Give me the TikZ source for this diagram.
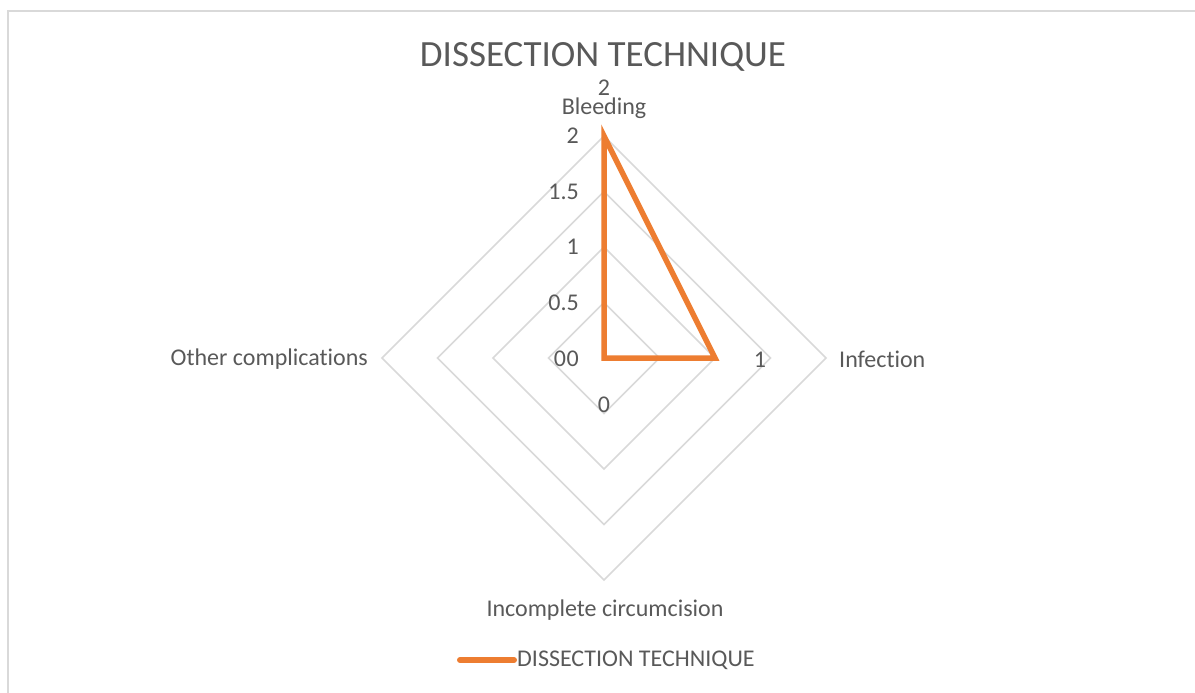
\documentclass[tikz,border=0pt]{standalone}
\usepackage{fontspec}
\setmainfont{Carlito}[RawFeature=-liga]
\definecolor{txt}{HTML}{595959}
\definecolor{gridc}{HTML}{D9D9D9}
\definecolor{ser}{HTML}{ED7D31}
\begin{document}
\begin{tikzpicture}[x=1pt,y=-1pt,
  lbl/.style={text=txt,font=\fontsize{24}{26}\selectfont,inner sep=0pt},
  ring/.style={draw=gridc,line width=1.6pt},
  serline/.style={draw=ser,line width=5.5pt,line join=miter}]
\useasboundingbox (0,0) rectangle (1195,693);
\draw[gridc,line width=2pt] (8,693) -- (8,11) -- (1195,11);
\coordinate (c) at (604,358);
\foreach \r in {55.5,111,166.5,222}{
  \draw[ring] (604,358-\r) -- (604+\r,358) -- (604,358+\r) -- (604-\r,358) -- cycle;
}
\coordinate (pb) at (604,136);
\coordinate (pi) at (715,358);
\coordinate (pc) at (604,358);
\coordinate (po) at (604,358);
\draw[serline] (pb) -- (pi) -- (pc) -- (po) -- cycle;
% title
\node[text=txt,font=\fontsize{37}{40}\selectfont,inner sep=0pt] (title) at (603,57) {DISSECTION TECHNIQUE};
% category labels
\node[lbl] (lb) at (604,108) {Bleeding};
\node[lbl,anchor=west] (li) at (839,359) {Infection};
\node[lbl] (lc) at (605,610) {Incomplete circumcision};
\node[lbl,anchor=east] (lo) at (368,359) {Other complications};
% axis labels
\node[lbl,anchor=east] (a2) at (579,136) {2};
\node[lbl,anchor=east] (a15) at (579,192) {1.5};
\node[lbl,anchor=east] (a1) at (579,247) {1};
\node[lbl,anchor=east] (a05) at (579,303) {0.5};
\node[lbl,anchor=east] (a0) at (579,359) {0};
% data labels
\node[lbl] (d2) at (604,88) {2};
\node[lbl] (d1) at (760,360) {1};
\node[lbl] (d0a) at (604,405) {0};
\node[lbl] (d0b) at (560,359) {0};
% legend
\coordinate (l1) at (460,660);
\coordinate (l2) at (514,660);
\draw[ser,line width=6pt,line cap=round] (l1) -- (l2);
\node[lbl,anchor=west] (leg) at (517,660) {DISSECTION TECHNIQUE};
\end{tikzpicture}
\end{document}
